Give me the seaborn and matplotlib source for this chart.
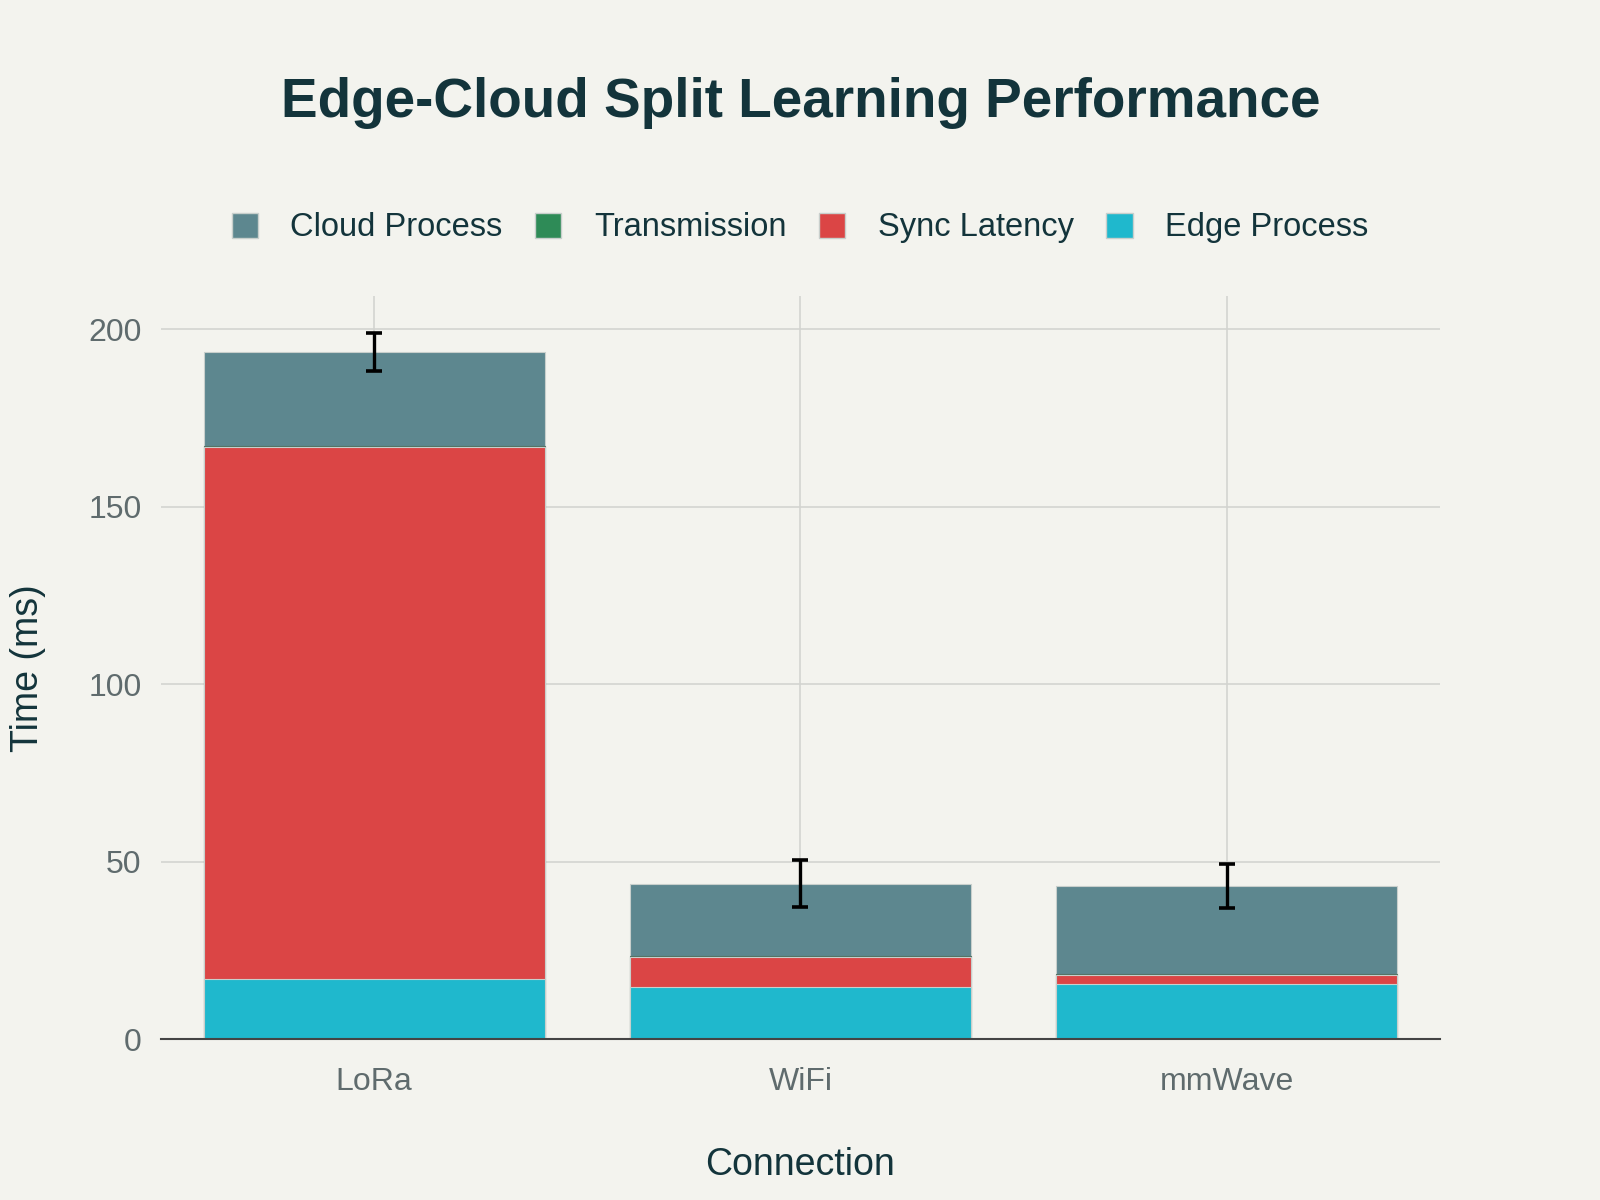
import numpy as np
import pandas as pd
import matplotlib
matplotlib.use('Agg')
import matplotlib.pyplot as plt
import seaborn as sns
from matplotlib.patches import Patch

# data (ms)
connections = ['LoRa', 'WiFi', 'mmWave']
edge_process = [16.9, 14.8, 15.6]
sync_latency = [150.0, 8.3, 2.6]
transmission = [0.3, 0.3, 0.3]
cloud_process = [26.5, 20.5, 24.8]
total_error = [5.3, 6.7, 6.2]

colors = {
    'Edge Process': '#1FB8CD',
    'Sync Latency': '#DB4545',
    'Transmission': '#2E8B57',
    'Cloud Process': '#5D878F',
}
bg = '#F3F3EE'
dark = '#13343B'
grey = '#5F6B6D'

df = pd.DataFrame({
    'Connection': connections,
    'Edge Process': edge_process,
    'Sync Latency': sync_latency,
    'Transmission': transmission,
    'Cloud Process': cloud_process,
})
stack = ['Edge Process', 'Sync Latency', 'Transmission', 'Cloud Process']
cum = df[stack].cumsum(axis=1)
df['total'] = cum['Cloud Process']

sns.set_theme(style='white')
plt.rcParams['font.family'] = ['Liberation Sans', 'DejaVu Sans']

fig = plt.figure(figsize=(16, 12), dpi=100, facecolor=bg)
ax = fig.add_axes([0.1006, 0.1338, 0.7994, 0.6195])
ax.set_facecolor(bg)

# stacked bars: draw cumulative heights from top layer down
edge_cols = {'Cloud Process': '#c8cfcc', 'Transmission': '#4f6f60',
             'Sync Latency': '#c8cfcc', 'Edge Process': '#c8cfcc'}
for layer in reversed(stack):
    sns.barplot(x=df['Connection'], y=cum[layer], color=colors[layer],
                saturation=1, width=0.8, ax=ax, edgecolor=edge_cols[layer],
                linewidth=0.8, zorder=2)

ax.errorbar(x=np.arange(len(connections)), y=df['total'], yerr=total_error,
            fmt='none', ecolor='black', elinewidth=2.4, capsize=6, capthick=2.6,
            zorder=5)

ax.set_xlim(-0.5, 2.5)
ax.set_ylim(0, 209.4)
ax.set_yticks([0, 50, 100, 150, 200])
ax.grid(True, color='#d3d4d0', linewidth=1.2, zorder=0)
ax.set_axisbelow(True)
for s in ['left', 'right', 'top']:
    ax.spines[s].set_visible(False)
ax.spines['bottom'].set_color('#444444')
ax.spines['bottom'].set_linewidth(1.5)
ax.tick_params(axis='both', length=8, width=1.2, color='#d3d4d0',
               labelsize=23, labelcolor=grey, pad=6)
ax.tick_params(axis='x', pad=12)

ax.set_xlabel('Connection', fontsize=27, color=dark, labelpad=36)
ax.set_ylabel('Time (ms)', fontsize=27, color=dark, labelpad=30)

fig.text(0.5007, 0.914, 'Edge-Cloud Split Learning Performance', ha='center',
         va='center', fontsize=39.5, fontweight='bold', color=dark)

handles = [Patch(facecolor=colors[k], edgecolor='#c8cfcc', label=k)
           for k in ['Cloud Process', 'Transmission', 'Sync Latency', 'Edge Process']]
fig.legend(handles=handles, loc='center', bbox_to_anchor=(0.5, 0.81), ncol=4,
           frameon=False, fontsize=23.5, labelcolor=dark, handlelength=0.8,
           handleheight=0.8, handletextpad=1.0, columnspacing=1.0)

fig.savefig('out.png', dpi=100, facecolor=bg)
